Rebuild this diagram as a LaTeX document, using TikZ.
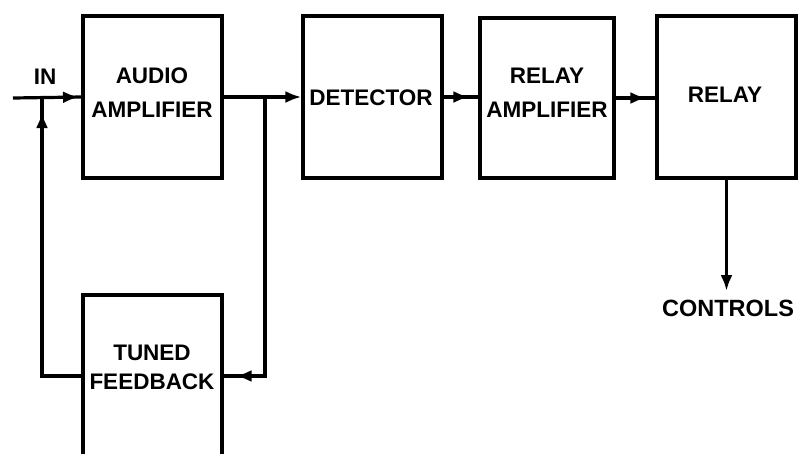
\documentclass[tikz,border=0pt]{standalone}
\usepackage{fontspec}
\setmainfont{Liberation Sans}
\usetikzlibrary{arrows.meta,decorations.markings}
\begin{document}
\begin{tikzpicture}[x=1pt,y=-1pt,
 box/.style={draw,line width=3.2pt,minimum width=139pt,minimum height=162pt,inner sep=0pt},
 lbl/.style={font=\fontsize{22.5}{34}\selectfont\bfseries,align=center,inner sep=0pt},
 wire/.style={line width=3.2pt},
 tip/.style={-{Latex[length=16pt,width=12pt]}},
 midarrow/.style={postaction={decorate},decoration={markings,mark=at position #1 with {\arrow{Latex[length=16pt,width=12pt]}}}}]
\useasboundingbox (0,0) rectangle (799,453);
\clip (0,0) rectangle (799,453);
% boxes
\node[box] (aud) at (152.5,97) {};
\node[box] (det) at (372.5,97) {};
\node[box,minimum width=134pt,minimum height=160pt] (ramp) at (547,98) {};
\node[box] (rel) at (726.5,97) {};
\node[box] (tf) at (152.5,376) {};
% labels
\node[lbl] (audt) at (152,93) {AUDIO\\AMPLIFIER};
\node[lbl] (dett) at (371,98) {DETECTOR};
\node[lbl] (rampt) at (547,93) {RELAY\\AMPLIFIER};
\node[lbl] (relt) at (725,95) {RELAY};
\node[lbl] (tft) at (152,367) {TUNED\\[-5pt]FEEDBACK};
\node[lbl] (in) at (45,77) {IN};
\node[lbl,font=\fontsize{23.5}{34}\selectfont\bfseries] (ctl) at (728,308) {CONTROLS};
% wires
\coordinate (src) at (13,98);
\coordinate (j1) at (42,98);
\coordinate (j2) at (265,98);
\coordinate (ctlend) at (726.5,291);
\draw[wire,midarrow=66pt] (src) -- (aud.west);
\draw[wire,tip] (aud.east) -- (det.west);
\draw[wire,midarrow=-9pt] (det.east) -- (det.east -| ramp.west);
\draw[wire,midarrow=-9pt] (ramp.east) -- (ramp.east -| rel.west);
\draw[wire,midarrow=-12pt] (j2) |- (tf.east);
\draw[wire,midarrow=-14pt] (tf.west) -| (j1);
\draw[wire,tip] (rel.south) -- (ctlend);
\end{tikzpicture}
\end{document}
